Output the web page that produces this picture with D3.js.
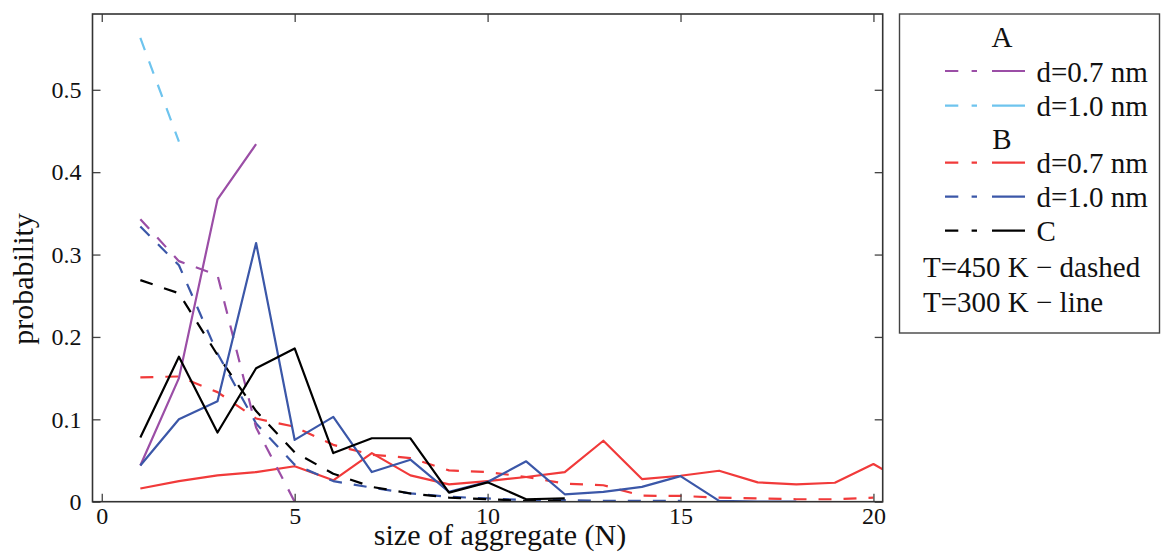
<!DOCTYPE html>
<html>
<head>
<meta charset="utf-8">
<script src="https://cdnjs.cloudflare.com/ajax/libs/d3/7.8.5/d3.min.js"></script>
<style>
  body { margin: 0; background: #fff; }
  svg text { font-family: "Liberation Serif", "Times New Roman", Times, "DejaVu Serif", serif; fill: #111; }
</style>
</head>
<body>
<div id="chart"></div>
<script>
// aggregate sizes N (each series starts at N = 1)
var sizes = d3.range(1, 22);

// probabilities, dashed = T=450 K, solid = T=300 K
var aThin450 = [0.343, 0.292, 0.275, 0.090, 0.0];
var aThin300 = [0.044, 0.150, 0.367, 0.434];
var aWide450 = [0.563, 0.437];
var aWide300 = [];
var bThin450 = [0.151, 0.152, 0.133, 0.101, 0.091, 0.069, 0.057, 0.053, 0.038, 0.036,
                0.030, 0.022, 0.020, 0.0073, 0.007, 0.005, 0.004, 0.003, 0.003, 0.005];
var bThin300 = [0.016, 0.025, 0.032, 0.036, 0.043, 0.026, 0.059, 0.032, 0.021, 0.025,
                0.030, 0.036, 0.074, 0.0275, 0.0315, 0.0376, 0.0235, 0.021, 0.023, 0.0457, 0.019];
var bWide450 = [0.334, 0.287, 0.180, 0.095, 0.045, 0.025, 0.017, 0.010, 0.006, 0.004,
                0.002, 0.002, 0.001, 0.001, 0.001];
var bWide300 = [0.044, 0.100, 0.122, 0.314, 0.075, 0.103, 0.036, 0.051, 0.012, 0.024,
                0.049, 0.009, 0.012, 0.018, 0.031, 0.001, 0.0, 0.0];
var c450 = [0.269, 0.253, 0.178, 0.110, 0.060, 0.034, 0.018, 0.010, 0.005, 0.003, 0.001, 0.001];
var c300 = [0.078, 0.176, 0.084, 0.162, 0.186, 0.059, 0.077, 0.077, 0.011, 0.0235, 0.003, 0.004];

var xTicks = [0, 5, 10, 15, 20];
var yTicks = [0, 0.1, 0.2, 0.3, 0.4, 0.5];

var legendRows = [
  {label: "d=0.7 nm", color: "#9b4ea6"},
  {label: "d=1.0 nm", color: "#6ec4ee"},
  {label: "d=0.7 nm", color: "#f13a3a"},
  {label: "d=1.0 nm", color: "#3b57a8"},
  {label: "C", color: "#000000"}
];

var series = [
  {values: aWide450, color: "#6ec4ee", dashed: true},
  {values: aWide300, color: "#6ec4ee", dashed: false},
  {values: bThin300, color: "#f13a3a", dashed: false},
  {values: bThin450, color: "#f13a3a", dashed: true},
  {values: bWide450, color: "#3b57a8", dashed: true},
  {values: c450, color: "#000000", dashed: true},
  {values: aThin450, color: "#9b4ea6", dashed: true},
  {values: aThin300, color: "#9b4ea6", dashed: false},
  {values: bWide300, color: "#3b57a8", dashed: false},
  {values: c300, color: "#000000", dashed: false}
];

var serif = "'Liberation Serif', 'Times New Roman', Times, 'DejaVu Serif', serif";

// set the dimensions and margins of the graph
var W = 1161, H = 556;
var margin = {top: 14, left: 92.5},
    width = 882.7 - 92.5,
    height = 501.7 - 14;

var svg = d3.select("#chart").append("svg")
    .attr("width", W)
    .attr("height", H)
    .attr("font-family", serif);

var g = svg.append("g")
    .attr("transform", "translate(" + margin.left + "," + margin.top + ")");

// set the ranges
var x = d3.scaleLinear().domain([-0.24, 20.24]).range([0, width]);
var y = d3.scaleLinear().domain([0, 0.592]).range([height, 0]);

g.append("clipPath")
    .attr("id", "plot-clip")
  .append("rect")
    .attr("width", width)
    .attr("height", height);

// define the line
var valueline = d3.line()
    .x(function(d, i) { return x(sizes[i]); })
    .y(function(d) { return y(d); });

var lines = g.append("g").attr("clip-path", "url(#plot-clip)");
series.forEach(function(s) {
  if (!s.values.length) return;
  lines.append("path")
      .datum(s.values)
      .attr("d", valueline)
      .attr("fill", "none")
      .attr("stroke", s.color)
      .attr("stroke-width", 2.2)
      .attr("stroke-linejoin", "round")
      .attr("stroke-dasharray", s.dashed ? "13,12" : null);
});

// axes with inward ticks on all four sides
var tickColor = "#444";
function styleAxis(a) {
  a.attr("font-family", serif);
  a.select(".domain").remove();
  a.selectAll("line").attr("stroke", tickColor).attr("stroke-width", 1.3);
  a.selectAll("text").attr("font-size", 24).attr("fill", "#111");
}
g.append("g")
    .attr("transform", "translate(0," + height + ")")
    .call(d3.axisBottom(x).tickValues(xTicks).tickSize(-8).tickPadding(5).tickFormat(d3.format("d")))
    .call(styleAxis);
g.append("g")
    .call(d3.axisTop(x).tickValues(xTicks).tickSize(-8).tickFormat(""))
    .call(styleAxis);
g.append("g")
    .call(d3.axisLeft(y).tickValues(yTicks).tickSize(-8).tickPadding(11)
      .tickFormat(function(d) { return d === 0 ? "0" : d3.format(".1f")(d); }))
    .call(styleAxis);
g.append("g")
    .attr("transform", "translate(" + width + ",0)")
    .call(d3.axisRight(y).tickValues(yTicks).tickSize(-8).tickFormat(""))
    .call(styleAxis);

// frame
g.append("rect")
    .attr("width", width)
    .attr("height", height)
    .attr("fill", "none")
    .attr("stroke", "#333")
    .attr("stroke-width", 1.6);

// axis titles
svg.append("text")
    .attr("x", 500)
    .attr("y", 545)
    .attr("text-anchor", "middle")
    .attr("font-size", 30)
    .text("size of aggregate (N)");
svg.append("text")
    .attr("transform", "translate(33,279) rotate(-90)")
    .attr("text-anchor", "middle")
    .attr("font-size", 30)
    .text("probability");

// legend
var lg = svg.append("g");
lg.append("rect")
    .attr("x", 899.5).attr("y", 14)
    .attr("width", 260).attr("height", 319)
    .attr("fill", "#fff")
    .attr("stroke", "#444")
    .attr("stroke-width", 1.4);

var fs = 29;
lg.append("text").attr("x", 1002).attr("y", 47.3).attr("text-anchor", "middle").attr("font-size", fs).text("A");
lg.append("text").attr("x", 1002).attr("y", 149.3).attr("text-anchor", "middle").attr("font-size", fs).text("B");

var rowY = [71, 105.7, 162.7, 196.7, 230.7];
legendRows.forEach(function(r, i) {
  var yy = rowY[i];
  lg.append("line")
      .attr("x1", 945).attr("x2", 977).attr("y1", yy).attr("y2", yy)
      .attr("stroke", r.color).attr("stroke-width", 2.2)
      .attr("stroke-dasharray", "13.3,13.3");
  lg.append("line")
      .attr("x1", 992).attr("x2", 1025).attr("y1", yy).attr("y2", yy)
      .attr("stroke", r.color).attr("stroke-width", 2.2);
  lg.append("text")
      .attr("x", 1036.5).attr("y", yy + 10.7)
      .attr("font-size", fs)
      .text(r.label);
});

lg.append("text").attr("x", 923).attr("y", 276.7).attr("font-size", fs).text("T=450 K \u2212 dashed");
lg.append("text").attr("x", 923).attr("y", 311.7).attr("font-size", fs).text("T=300 K \u2212 line");
</script>
</body>
</html>
